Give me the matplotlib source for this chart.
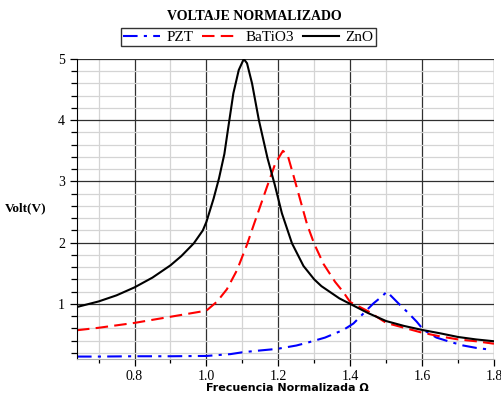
import numpy as np
import matplotlib
matplotlib.use("Agg")
import matplotlib.pyplot as plt
from matplotlib.ticker import MultipleLocator

# Data
pzt_freq = [0.64, 0.70, 0.80, 0.90, 1.00, 1.067, 1.10, 1.15, 1.196, 1.25, 1.283, 1.33,
            1.381, 1.409, 1.442, 1.465, 1.488, 1.502, 1.534, 1.562, 1.585, 1.604,
            1.64, 1.678, 1.715, 1.752, 1.78]
pzt_volt = [0.14, 0.14, 0.145, 0.145, 0.15, 0.18, 0.21, 0.24, 0.265, 0.32, 0.37, 0.45,
            0.575, 0.68, 0.875, 1.01, 1.12, 1.2, 1.01, 0.85, 0.71, 0.575,
            0.45, 0.38, 0.32, 0.28, 0.26]

batio3_freq = [0.64, 0.70, 0.80, 0.90, 1.00, 1.03, 1.057, 1.085, 1.113, 1.131, 1.15, 1.169,
               1.192, 1.213, 1.226, 1.243, 1.261, 1.28, 1.30, 1.326, 1.358, 1.38, 1.40,
               1.45, 1.50, 1.55, 1.60, 1.65, 1.70, 1.75, 1.80]
batio3_volt = [0.57, 0.61, 0.69, 0.79, 0.89, 1.04, 1.24, 1.55, 1.97, 2.28, 2.6, 2.92,
               3.3, 3.5, 3.43, 3.08, 2.7, 2.3, 1.98, 1.65, 1.36, 1.2, 1.03,
               0.88, 0.69, 0.61, 0.53, 0.47, 0.42, 0.39, 0.35]

zno_freq = [0.64, 0.70, 0.75, 0.80, 0.85, 0.90, 0.93, 0.965, 0.99, 1.00, 1.02, 1.035,
            1.05, 1.06, 1.075, 1.09, 1.104, 1.113, 1.127, 1.146, 1.17, 1.19, 1.21,
            1.238, 1.27, 1.30, 1.32, 1.35, 1.37, 1.40, 1.45, 1.50, 1.55, 1.60,
            1.65, 1.70, 1.75, 1.80]
zno_volt = [0.95, 1.04, 1.14, 1.27, 1.43, 1.63, 1.78, 1.99, 2.2, 2.34, 2.72, 3.05,
            3.45, 3.85, 4.44, 4.82, 5.0, 4.93, 4.6, 4.0, 3.38, 2.95, 2.48,
            1.99, 1.62, 1.40, 1.29, 1.17, 1.09, 1.0, 0.85, 0.72, 0.64, 0.575,
            0.52, 0.46, 0.42, 0.39]

serif = "Liberation Serif"


def plot_voltage():
    fig = plt.figure(figsize=(5.02, 3.96), dpi=100)
    ax = fig.add_axes([0.1534, 0.0934, 0.8306, 0.7576])

    ax.plot(pzt_freq, pzt_volt, color="#0000ff", linewidth=1.5,
            dashes=(7, 3, 1.5, 3), label="PZT")
    ax.plot(batio3_freq, batio3_volt, color="#ff0000", linewidth=1.5,
            dashes=(6, 3), label="BaTiO3")
    ax.plot(zno_freq, zno_volt, color="black", linewidth=1.5, label="ZnO")

    ax.set_xlim(0.64, 1.8)
    ax.set_ylim(0.1, 5)

    # grid: dark major lines, light minor lines
    ax.xaxis.set_major_locator(MultipleLocator(0.2))
    ax.xaxis.set_minor_locator(MultipleLocator(0.1))
    ax.yaxis.set_major_locator(MultipleLocator(1))
    ax.yaxis.set_minor_locator(MultipleLocator(0.2))
    ax.grid(which="major", color="#303030", linewidth=0.9)
    ax.grid(which="minor", color="#d4d4d4", linewidth=0.9)
    ax.set_axisbelow(True)

    ax.spines["top"].set_visible(False)
    ax.spines["right"].set_visible(False)
    ax.spines["left"].set_color("black")
    ax.spines["bottom"].set_color("#b0b0b0")

    ax.tick_params(which="major", direction="out", length=5, width=0.9, color="black")
    ax.tick_params(which="minor", direction="out", length=4, width=0.9, color="black")
    ax.tick_params(axis="x", which="minor", length=3)
    ax.tick_params(axis="x", pad=3)
    ax.set_xticks([0.8, 1.0, 1.2, 1.4, 1.6, 1.8])
    ax.set_xticklabels(["0.8", "1.0", "1.2", "1.4", "1.6", "1.8"])
    ax.set_yticks([1, 2, 3, 4, 5])
    for lbl in ax.get_xticklabels() + ax.get_yticklabels():
        lbl.set_fontfamily(serif)
        lbl.set_fontsize(10)

    fig.text(0.572, 0.021, "Frecuencia Normalizada \u03a9", fontsize=8,
             fontweight="bold", fontfamily="DejaVu Sans", ha="center", va="center")
    fig.text(0.052, 0.475, "Volt(V)", fontsize=9.5, fontweight="bold",
             fontfamily=serif, ha="center", va="center")
    fig.text(0.506, 0.958, "VOLTAJE NORMALIZADO", fontsize=10, fontweight="bold",
             fontfamily=serif, ha="center", va="center")

    leg = fig.legend(loc="center", bbox_to_anchor=(0.495, 0.906), ncol=3,
                     prop={"family": serif, "size": 11}, frameon=True,
                     fancybox=False, edgecolor="black", handlelength=2.4,
                     handletextpad=0.4, columnspacing=0.6, borderpad=0.15,
                     borderaxespad=0)
    leg.get_frame().set_linewidth(1.0)

    fig.savefig("out.png", dpi=100)


if __name__ == "__main__":
    plot_voltage()
